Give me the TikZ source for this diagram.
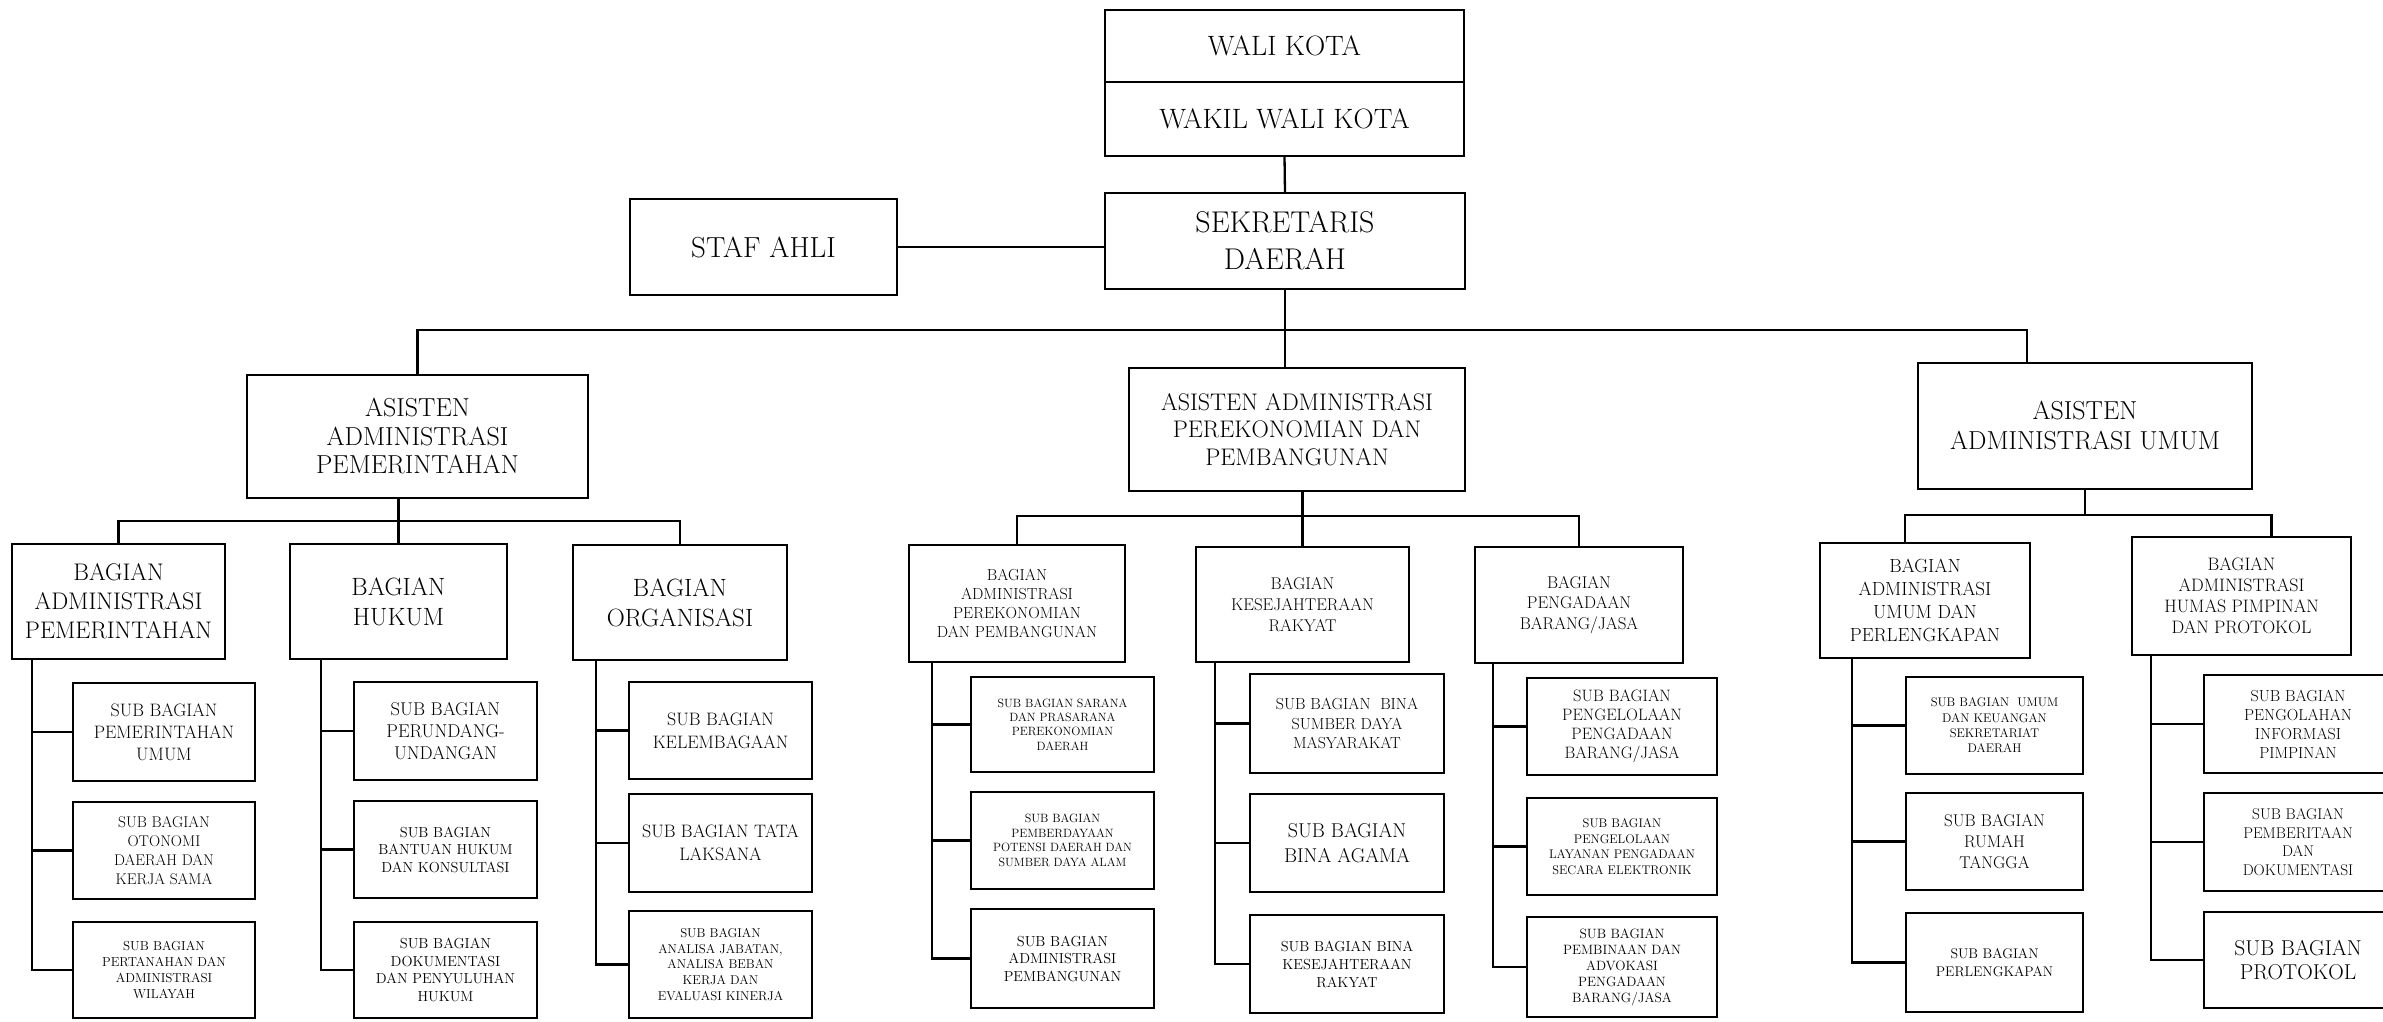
\documentclass[tikz,border=0pt]{standalone}
\usetikzlibrary{positioning}
\tikzset{
  ob/.style={draw=black, line width=2.3pt, align=center, inner sep=0pt, outer sep=0pt, text=black},
  ln/.style={draw=black, line width=2.3pt},
}
\newcommand\ob[8]{\node[ob, font=\fontsize{#6}{#7}\selectfont, minimum width={#4-#2}, minimum height={#5-#3}] (#1) at ({(#2+#4)/2},{(#3+#5)/2}) {#8};}
\begin{document}
\begin{tikzpicture}[x=1pt,y=-1pt]
\useasboundingbox (0,0) rectangle (2383,1021);
\clip (0,0) rectangle (2383,1021);
\fill[white] (0,0) rectangle (2383,1021);
% top
\ob{wali}{1105}{10}{1464}{82}{28}{34}{WALI KOTA}
\ob{wakil}{1105}{82}{1464}{156}{28}{34}{WAKIL WALI KOTA}
\ob{sek}{1105}{193}{1465}{289}{30}{37}{SEKRETARIS\\DAERAH}
\ob{staf}{630}{199}{897}{295}{29}{34}{STAF AHLI}
% asisten
\ob{asA}{247}{375}{588}{498}{26}{28.5}{ASISTEN\\ADMINISTRASI\\PEMERINTAHAN}
\ob{asB}{1129}{368}{1465}{491}{24}{27.5}{ASISTEN ADMINISTRASI\\PEREKONOMIAN DAN\\PEMBANGUNAN}
\ob{asC}{1918}{363}{2252}{489}{26}{30}{ASISTEN\\ADMINISTRASI UMUM}
% bagian
\ob{bA1}{12}{544}{225}{659}{24}{29}{BAGIAN\\ADMINISTRASI\\PEMERINTAHAN}
\ob{bA2}{290}{544}{507}{659}{25}{30}{BAGIAN\\HUKUM}
\ob{bA3}{573}{545}{787}{660}{25}{30}{BAGIAN\\ORGANISASI}
\ob{bB1}{909}{545}{1125}{662}{16}{19}{BAGIAN\\ADMINISTRASI\\PEREKONOMIAN\\DAN PEMBANGUNAN}
\ob{bB2}{1196}{547}{1409}{662}{17}{21}{BAGIAN\\KESEJAHTERAAN\\RAKYAT}
\ob{bB3}{1475}{547}{1683}{663}{17}{20.5}{BAGIAN\\PENGADAAN\\BARANG/JASA}
\ob{bC1}{1820}{543}{2030}{658}{19}{23}{BAGIAN\\ADMINISTRASI\\UMUM DAN\\PERLENGKAPAN}
\ob{bC2}{2132}{537}{2351}{655}{18}{21}{BAGIAN\\ADMINISTRASI\\HUMAS PIMPINAN\\DAN PROTOKOL}
% sub bagian col A1
\ob{sA1a}{73}{683}{255}{781}{18}{22}{SUB BAGIAN\\PEMERINTAHAN\\UMUM}
\ob{sA1b}{73}{802}{255}{899}{15.5}{19}{SUB BAGIAN\\OTONOMI\\DAERAH DAN\\KERJA SAMA}
\ob{sA1c}{73}{922}{255}{1018}{13}{16}{SUB BAGIAN\\PERTANAHAN DAN\\ADMINISTRASI\\WILAYAH}
% col A2
\ob{sA2a}{354}{682}{537}{780}{18.5}{21.7}{SUB BAGIAN\\PERUNDANG-\\UNDANGAN}
\ob{sA2b}{354}{801}{537}{898}{14.5}{17.5}{SUB BAGIAN\\BANTUAN HUKUM\\DAN KONSULTASI}
\ob{sA2c}{354}{922}{537}{1018}{14.5}{17.5}{SUB BAGIAN\\DOKUMENTASI\\DAN PENYULUHAN\\HUKUM}
% col A3
\ob{sA3a}{629}{682}{812}{779}{18}{22.7}{SUB BAGIAN\\KELEMBAGAAN}
\ob{sA3b}{629}{794}{812}{892}{18}{22.7}{SUB BAGIAN TATA\\LAKSANA}
\ob{sA3c}{629}{911}{812}{1018}{12.8}{15.8}{SUB BAGIAN\\ANALISA JABATAN,\\ANALISA BEBAN\\KERJA DAN\\EVALUASI KINERJA}
% col B1
\ob{sB1a}{971}{677}{1154}{772}{12}{14.3}{SUB BAGIAN SARANA\\DAN PRASARANA\\PEREKONOMIAN\\DAERAH}
\ob{sB1b}{971}{792}{1154}{889}{12}{14.5}{SUB BAGIAN\\PEMBERDAYAAN\\POTENSI DAERAH DAN\\SUMBER DAYA ALAM}
\ob{sB1c}{971}{909}{1154}{1008}{14.5}{17.5}{SUB BAGIAN\\ADMINISTRASI\\PEMBANGUNAN}
% col B2
\ob{sB2a}{1250}{674}{1444}{773}{16}{19.5}{SUB BAGIAN\ \ BINA\\SUMBER DAYA\\MASYARAKAT}
\ob{sB2b}{1250}{794}{1444}{892}{20}{25}{SUB BAGIAN\\BINA AGAMA}
\ob{sB2c}{1250}{915}{1444}{1013}{14.5}{18}{SUB BAGIAN BINA\\KESEJAHTERAAN\\RAKYAT}
% col B3
\ob{sB3a}{1527}{678}{1717}{775}{16.5}{19}{SUB BAGIAN\\PENGELOLAAN\\PENGADAAN\\BARANG/JASA}
\ob{sB3b}{1527}{798}{1717}{895}{12.5}{15.5}{SUB BAGIAN\\PENGELOLAAN\\LAYANAN PENGADAAN\\SECARA ELEKTRONIK}
\ob{sB3c}{1527}{917}{1717}{1017}{13.5}{16}{SUB BAGIAN\\PEMBINAAN DAN\\ADVOKASI\\PENGADAAN\\BARANG/JASA}
% col C1
\ob{sC1a}{1906}{677}{2083}{774}{12.5}{15.3}{SUB BAGIAN\ \ UMUM\\DAN KEUANGAN\\SEKRETARIAT\\DAERAH}
\ob{sC1b}{1906}{793}{2083}{890}{17}{21}{SUB BAGIAN\\RUMAH\\TANGGA}
\ob{sC1c}{1906}{913}{2083}{1012}{14}{18}{SUB BAGIAN\\PERLENGKAPAN}
% col C2
\ob{sC2a}{2204}{675}{2392}{773}{16}{19}{SUB BAGIAN\\PENGOLAHAN\\INFORMASI\\PIMPINAN}
\ob{sC2b}{2204}{793}{2392}{891}{15.5}{18.7}{SUB BAGIAN\\PEMBERITAAN\\DAN\\DOKUMENTASI}
\ob{sC2c}{2204}{912}{2392}{1008}{21.5}{24.7}{SUB BAGIAN\\PROTOKOL}
% bus coordinates
\coordinate (bus1) at (0,330);
\coordinate (busA) at (0,521);
\coordinate (busB) at (0,516);
\coordinate (busC) at (0,515);
\coordinate (tA1) at (32,0);
\coordinate (tA2) at (321,0);
\coordinate (tA3) at (596,0);
\coordinate (tB1) at (932,0);
\coordinate (tB2) at (1215,0);
\coordinate (tB3) at (1493,0);
\coordinate (tC1) at (1852,0);
\coordinate (tC2) at (2151,0);
% top connectors
\draw[ln] (wakil.south) -- (sek.north);
\draw[ln] (staf.east) -- (staf.east -| sek.west);
\draw[ln] (sek.south) -- (sek.south |- asB.north);
\draw[ln] (asA.north) -- (asA.north |- bus1) -- ([xshift=-58pt]asC.north |- bus1) -- ([xshift=-58pt]asC.north);
% asisten to bagian
\draw[ln] (bA2.north) -- (bA2.north |- asA.south);
\draw[ln] (bA1.north) -- (bA1.north |- busA) -- (bA3.north |- busA) -- (bA3.north);
\draw[ln] (bB2.north) -- (bB2.north |- asB.south);
\draw[ln] (bB1.north) -- (bB1.north |- busB) -- (bB3.north |- busB) -- (bB3.north);
\draw[ln] (asC.south) -- (asC.south |- busC);
\draw[ln] ([xshift=-20pt]bC1.north) -- ([xshift=-20pt]bC1.north |- busC) -- ([xshift=30pt]bC2.north |- busC) -- ([xshift=30pt]bC2.north);
% trunks and taps
\foreach \b/\t/\s in {bA1/tA1/sA1, bA2/tA2/sA2, bA3/tA3/sA3, bB1/tB1/sB1, bB2/tB2/sB2, bB3/tB3/sB3, bC1/tC1/sC1, bC2/tC2/sC2}{
  \draw[ln] (\t |- \b.south) -- (\t |- \s c.west) -- (\s c.west);
  \draw[ln] (\t |- \s a.west) -- (\s a.west);
  \draw[ln] (\t |- \s b.west) -- (\s b.west);
}
\end{tikzpicture}
\end{document}
